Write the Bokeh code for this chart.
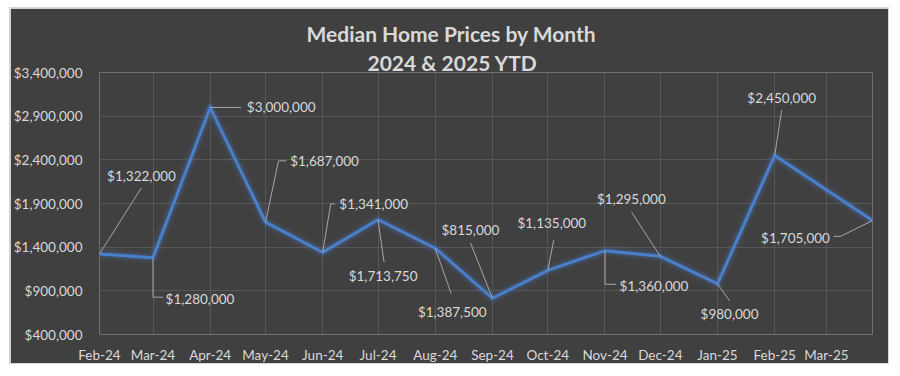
import pandas as pd
from bokeh.plotting import figure
from bokeh.models import Range1d, FixedTicker, NumeralTickFormatter, Title, ColumnDataSource
from bokeh.core.properties import value
from bokeh.embed import file_html
from bokeh.resources import INLINE

# ---- data ----
months = ["Feb-24", "Mar-24", "Apr-24", "May-24", "Jun-24", "Jul-24", "Aug-24",
          "Sep-24", "Oct-24", "Nov-24", "Dec-24", "Jan-25", "Feb-25", "Mar-25"]
month_starts = ["2024-02-01", "2024-03-01", "2024-04-01", "2024-05-01", "2024-06-01",
                "2024-07-01", "2024-08-01", "2024-09-01", "2024-10-01", "2024-11-01",
                "2024-12-01", "2025-01-01", "2025-02-01", "2025-03-01"]
point_dates = ["2024-02-01", "2024-03-01", "2024-04-01", "2024-05-01", "2024-06-01",
               "2024-07-01", "2024-08-01", "2024-09-01", "2024-10-01", "2024-11-01",
               "2024-12-01", "2025-01-01", "2025-02-01", "2025-03-26"]
prices = [1322000, 1280000, 3000000, 1687000, 1341000, 1713750, 1387500,
          815000, 1135000, 1360000, 1295000, 980000, 2450000, 1705000]
y_ticks = [400000, 900000, 1400000, 1900000, 2400000, 2900000, 3400000]
title_lines = ["Median Home Prices by Month", "2024 & 2025 YTD"]

# ---- styles: label offsets (px, y down) and leader line paths (px) ----
label_dx = [42, 47, 71, 59, 51, 5, 17, -22, 4, 49, -29, 12, 7, -77]
label_dy = [-78, 41, 0, -61, -48, 56, 64, -68, -47, 35, -57, 30, -57, 17]
leader_px = [
    [(0, 0), (42, -67)],
    [(0, 0), (0, 40), (10, 40)],
    [(0, 0), (31, 0)],
    [(0, 0), (13, -62), (21, -62)],
    [(0, 0), (8, -49), (12, -49)],
    [(0, 0), (6, 43)],
    [(0, 0), (16, 46)],
    [(0, 0), (-22, -56)],
    [(0, 0), (6, -31)],
    [(0, 0), (0, 34), (11, 34)],
    [(0, 0), (-29, -45)],
    [(0, 0), (12, 17)],
    [(0, 0), (7, -46)],
    [(0, 0), (-32, 16), (-39, 16)],
]

W, H = 880, 357
BL, BR, BT, BB = 88, 18, 64, 28
FRAME_W, FRAME_H = W - BL - BR, H - BT - BB
BG = "#404040"
TXT = "#d9d9d9"
GRID = "#575757"
BLUE = "#4a7fcb"
FONT = "Lato"
FS = "13.5px"

start = pd.Timestamp(point_dates[0])
x = [(pd.Timestamp(d) - start).days for d in point_dates]
tick_x = [(pd.Timestamp(d) - start).days for d in month_starts]
labels = ["${:,.0f}".format(v) for v in prices]

x_per_px = (x[-1] - x[0]) / FRAME_W
y_per_px = (y_ticks[-1] - y_ticks[0]) / FRAME_H

p = figure(width=W, height=H,
           min_border_left=BL, min_border_right=BR, min_border_top=BT, min_border_bottom=BB,
           output_backend="svg", toolbar_location=None,
           x_range=Range1d(x[0], x[-1]), y_range=Range1d(y_ticks[0], y_ticks[-1]))
p.styles = {"margin-left": "9px", "margin-top": "7px", "border": "1px solid #d9d9d9"}
p.background_fill_color = BG
p.border_fill_color = BG
p.outline_line_color = None

# axes
p.xaxis.ticker = FixedTicker(ticks=tick_x)
p.xaxis.major_label_overrides = {t: m for t, m in zip(tick_x, months)}
p.yaxis.ticker = FixedTicker(ticks=y_ticks)
p.yaxis.formatter = NumeralTickFormatter(format="$0,0")
for ax in (p.xaxis[0], p.yaxis[0]):
    ax.axis_line_color = None
    ax.major_tick_line_color = None
    ax.minor_tick_line_color = None
    ax.major_tick_out = 0
    ax.major_tick_in = 0
    ax.minor_tick_out = 0
    ax.major_label_text_font = FONT
    ax.major_label_text_font_size = FS
    ax.major_label_text_color = TXT
p.yaxis.major_label_standoff = 17
p.xaxis.major_label_standoff = 12

p.xgrid.ticker = FixedTicker(ticks=tick_x)
p.ygrid.ticker = FixedTicker(ticks=y_ticks)
p.grid.grid_line_color = GRID
p.grid.grid_line_width = 1

# glow + line
src = ColumnDataSource(dict(x=x, y=prices, label=labels, dx=label_dx, dy=label_dy))
p.line("x", "y", source=src, line_color=BLUE, line_width=12, line_alpha=0.08, line_join="round")
p.line("x", "y", source=src, line_color=BLUE, line_width=7, line_alpha=0.18, line_join="round")
p.line("x", "y", source=src, line_color=BLUE, line_width=3, line_join="miter")

# leader lines
xs, ys = [], []
for xi, yi, path in zip(x, prices, leader_px):
    xs.append([xi + dx * x_per_px for dx, dy in path])
    ys.append([yi - dy * y_per_px for dx, dy in path])
p.multi_line(xs, ys, line_color="#a6a6a6", line_width=1)

# data labels
p.text("x", "y", text="label", source=src, x_offset="dx", y_offset="dy",
       text_align="center", text_baseline="middle",
       text_font=value(FONT), text_font_size=FS, text_color=TXT)

# title: second line added first (closest to frame)
for txt, off, so in ((title_lines[1], 268, -5), (title_lines[0], 207, 10)):
    p.add_layout(Title(text=txt, align="left", offset=off, standoff=so,
                       text_font=FONT, text_font_style="bold", text_font_size="21px",
                       text_color=TXT), "above")

open("out.html", "w").write(file_html(p, INLINE))
